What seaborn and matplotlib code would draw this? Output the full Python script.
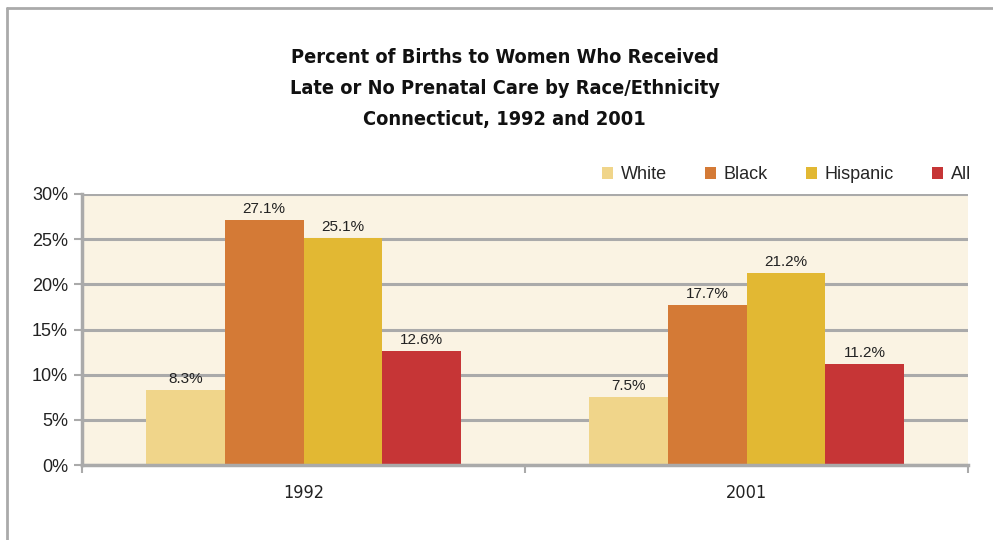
import matplotlib
matplotlib.use("Agg")
import matplotlib.pyplot as plt
import seaborn as sns
import pandas as pd
from matplotlib.lines import Line2D
from matplotlib.ticker import FixedLocator

years = ["1992", "2001"]
groups = ["White", "Black", "Hispanic", "All"]
white = [8.3, 7.5]
black = [27.1, 17.7]
hispanic = [25.1, 21.2]
all_ = [12.6, 11.2]
colors = ["#F0D58A", "#D47A36", "#E2B833", "#C63536"]
yticks = [0, 5, 10, 15, 20, 25, 30]

rows = []
for g, vals in zip(groups, [white, black, hispanic, all_]):
    for y, v in zip(years, vals):
        rows.append({"Year": y, "Group": g, "Value": v})
df = pd.DataFrame(rows)

sns.set_theme(style="white")
plt.rcParams['font.family'] = ['Liberation Sans', 'DejaVu Sans']

fig = plt.figure(figsize=(9.93, 5.40), dpi=100)
ax = fig.add_axes([82/993, 1-465/540, (968-82)/993, (465-194)/540])
ax.set_facecolor("#FAF3E3")

sns.barplot(data=df, x="Year", y="Value", hue="Group", hue_order=groups,
            palette=colors, width=0.711, saturation=1, ax=ax, legend=True,
            edgecolor="none", linewidth=0, zorder=2)

for cont in ax.containers:
    ax.bar_label(cont, fmt="%.1f%%", padding=3, fontsize=11, color="#222222")

ax.set_ylim(0, 30)
ax.set_xlim(-0.5, 1.5)
ax.set_yticks(yticks)
ax.set_yticklabels([f"{t}%" for t in yticks], fontsize=13, color="#222222")
ax.yaxis.grid(True, color="#AAAAAA", linewidth=2.2, zorder=0)
ax.set_axisbelow(True)
ax.set_xlabel("")
ax.set_ylabel("")

ax.xaxis.set_major_locator(FixedLocator([-0.5, 0.5, 1.5]))
ax.set_xticklabels(["", "", ""])
ax.xaxis.set_minor_locator(FixedLocator([0, 1]))
ax.set_xticklabels(years, minor=True, fontsize=13, family="DejaVu Sans",
                   fontstretch="condensed", color="#222222")
ax.tick_params(axis="x", which="major", length=6, width=1.5, color="#AAAAAA", direction="out", bottom=True)
ax.tick_params(axis="x", which="minor", length=0, pad=14)
ax.tick_params(axis="y", length=6, width=1.5, color="#AAAAAA", direction="out", left=True, pad=4)

for s in ["top", "right"]:
    ax.spines[s].set_visible(False)
for s in ["left", "bottom"]:
    ax.spines[s].set_color("#AAAAAA")
    ax.spines[s].set_linewidth(2.5)

leg = ax.legend(loc="lower right", bbox_to_anchor=(1.018, 0.993), ncol=4, frameon=False,
                fontsize=13, handlelength=0.6, handleheight=0.6, columnspacing=2.1,
                handletextpad=0.45, borderaxespad=0.3)

fig.text(0.508, 1-89/540, "Percent of Births to Women Who Received\nLate or No Prenatal Care by Race/Ethnicity\nConnecticut, 1992 and 2001",
         ha="center", va="center", fontsize=14.3, fontweight="bold", family="DejaVu Sans",
         fontstretch="condensed", linespacing=1.8, color="#111111")

fig.add_artist(Line2D([7/993, 1.0], [1-8/540, 1-8/540], transform=fig.transFigure, color="#AAAAAA", linewidth=2))
fig.add_artist(Line2D([7/993, 7/993], [0, 1-8/540], transform=fig.transFigure, color="#AAAAAA", linewidth=2))

fig.savefig("out.png", dpi=100, facecolor="white")
